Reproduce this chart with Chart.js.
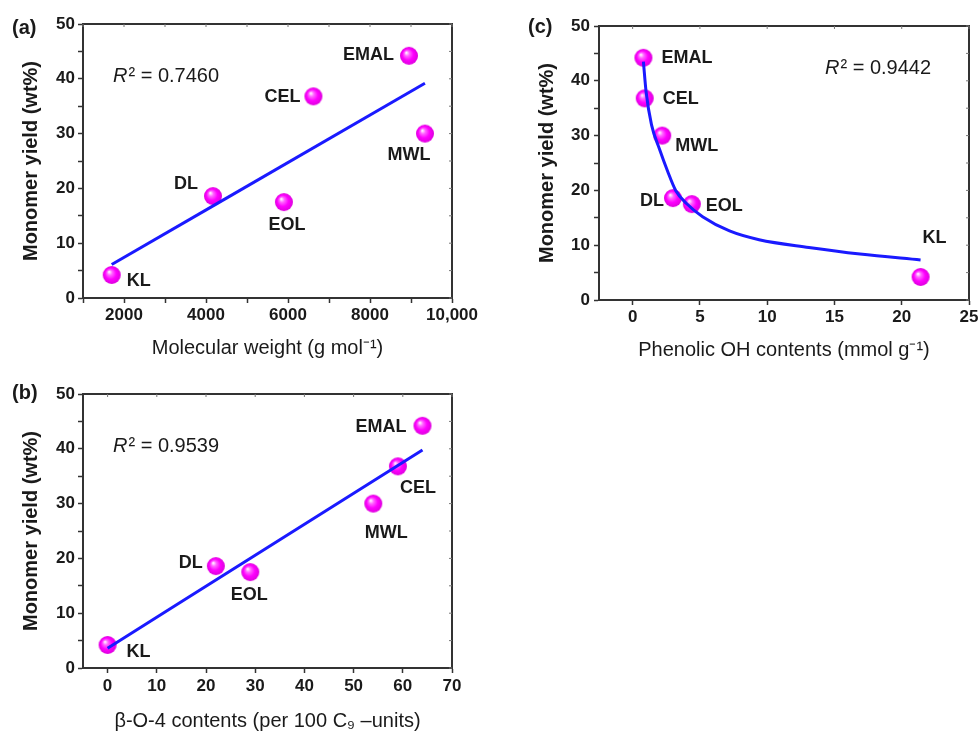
<!DOCTYPE html>
<html>
<head>
<meta charset="utf-8">
<script src="https://cdn.jsdelivr.net/npm/chart.js@4.4.1/dist/chart.umd.min.js"></script>
<style>
html, body { margin: 0; padding: 0; background: #fff; }
#page { position: relative; width: 979px; height: 731px; overflow: hidden; }
.panel { position: absolute; }
</style>
</head>
<body>
<div id="page">
  <div class="panel" style="left:0;top:0;width:490px;height:370px"><canvas id="chartA"></canvas></div>
  <div class="panel" style="left:0;top:370px;width:490px;height:361px"><canvas id="chartB"></canvas></div>
  <div class="panel" style="left:490px;top:0;width:489px;height:370px"><canvas id="chartC"></canvas></div>
</div>
<script>
// data
const names = ['KL', 'DL', 'EOL', 'CEL', 'EMAL', 'MWL'];
const monomerYield = [4.2, 18.6, 17.5, 36.8, 44.2, 30.0];
const molecularWeight = [1700, 4170, 5900, 6620, 8950, 9340];
const betaO4 = [0, 22, 29, 59, 64, 54];
const phenolicOH = [21.4, 3.0, 4.4, 0.9, 0.8, 2.2];

// fitted curves
const fitAX = [1700, 9340];
const fitAY = [6.1, 39.2];
const fitBX = [0, 64];
const fitBY = [3.6, 39.8];
const fitCX = [0.8, 1.0, 1.4, 2.0, 2.6, 3.2, 4.0, 5.2, 7.2, 9.4, 13.1, 16.9, 21.4];
const fitCY = [43.5, 38.0, 32.0, 27.5, 23.5, 20.0, 17.6, 15.2, 12.6, 11.0, 9.6, 8.4, 7.3];

const r2Values = ['0.7460', '0.9539', '0.9442'];

// ticks
const yTicks = [0, 5, 10, 15, 20, 25, 30, 35, 40, 45, 50];
const yLabels = [0, 10, 20, 30, 40, 50];
const xTicksA = [1000, 2000, 3000, 4000, 5000, 6000, 7000, 8000, 9000, 10000];
const xLabelsA = [2000, 4000, 6000, 8000, 10000];
const xTicksB = [0, 10, 20, 30, 40, 50, 60, 70];
const xTicksC = [0, 5, 10, 15, 20, 25];

const FONT = '"Liberation Sans", Arial, Helvetica, sans-serif';
const INK = '#1a1a1a';
const AXIS = '#333';

function sphere(r) {
  const c = document.createElement('canvas');
  const s = r * 2 + 2;
  c.width = s; c.height = s;
  const g = c.getContext('2d');
  const cx = s / 2, cy = s / 2;
  const grad = g.createRadialGradient(cx - r * 0.3, cy - r * 0.35, r * 0.05, cx, cy, r);
  grad.addColorStop(0, '#ffeeff');
  grad.addColorStop(0.25, '#ff66ff');
  grad.addColorStop(0.6, '#ff00ff');
  grad.addColorStop(1, '#dd00dd');
  g.fillStyle = grad;
  g.beginPath();
  g.arc(cx, cy, r, 0, Math.PI * 2);
  g.fill();
  return c;
}
const ball = sphere(9);

function fmtTick(v) {
  return v >= 10000 ? v.toLocaleString('en-US') : String(v);
}

function decor(p) {
  return {
    id: 'decor',
    afterDatasetsDraw(chart) {
      const ctx = chart.ctx;
      const xs = chart.scales.x, ys = chart.scales.y;
      ctx.save();
      ctx.fillStyle = INK;
      ctx.textBaseline = 'middle';
      ctx.font = 'bold 18px ' + FONT;
      names.forEach((n, i) => {
        const pl = p.place[n];
        ctx.textAlign = pl[2];
        ctx.fillText(n, xs.getPixelForValue(p.xv[i]) + pl[0], ys.getPixelForValue(monomerYield[i]) + pl[1]);
      });
      // R² annotation
      ctx.textAlign = 'left';
      ctx.font = 'italic 20px ' + FONT;
      ctx.fillText('R', p.r2Pos[0], p.r2Pos[1]);
      const w = ctx.measureText('R').width;
      ctx.font = '20px ' + FONT;
      ctx.fillText('\u00b2 = ' + p.r2, p.r2Pos[0] + w + 1, p.r2Pos[1]);
      // panel letter
      ctx.font = 'bold 20px ' + FONT;
      ctx.fillText(p.letter, p.letterPos[0], p.letterPos[1]);
      ctx.restore();
    },
    afterDraw(chart) {
      const ctx = chart.ctx;
      const a = chart.chartArea;
      const xs = chart.scales.x, ys = chart.scales.y;
      ctx.save();
      ctx.strokeStyle = AXIS;
      ctx.lineWidth = 2;
      ctx.beginPath();
      ctx.moveTo(a.left - 1, a.top);
      ctx.lineTo(a.right, a.top);
      ctx.lineTo(a.right, a.bottom + 1);
      ctx.stroke();
      ctx.strokeStyle = '#777';
      ctx.lineWidth = 1;
      ctx.beginPath();
      xs.ticks.forEach(t => {
        const px = xs.getPixelForValue(t.value);
        ctx.moveTo(px, a.top);
        ctx.lineTo(px, a.top + 3);
      });
      ys.ticks.forEach(t => {
        const py = ys.getPixelForValue(t.value);
        ctx.moveTo(a.right, py);
        ctx.lineTo(a.right - 3, py);
      });
      ctx.stroke();
      ctx.restore();
    }
  };
}

function makePanel(id, p) {
  const points = p.xv.map((x, i) => ({ x: x, y: monomerYield[i] }));
  const fit = p.fitX.map((x, i) => ({ x: x, y: p.fitY[i] }));
  return new Chart(document.getElementById(id), {
    type: 'scatter',
    data: {
      datasets: [
        {
          data: fit,
          showLine: true,
          borderColor: '#1a1aff',
          borderWidth: 3,
          pointRadius: 0,
          cubicInterpolationMode: 'monotone',
          order: 0
        },
        {
          data: points,
          pointStyle: ball,
          pointRadius: 9,
          order: 1
        }
      ]
    },
    options: {
      responsive: true,
      maintainAspectRatio: false,
      animation: false,
      layout: { padding: p.padding },
      plugins: { legend: { display: false }, tooltip: { enabled: false } },
      scales: {
        x: {
          type: 'linear',
          min: p.xMin,
          max: p.xMax,
          afterBuildTicks: s => { s.ticks = p.xTicks.map(v => ({ value: v })); },
          afterFit: s => { s.height = p.xHeight; s.paddingLeft = 0; s.paddingRight = 0; },
          grid: { drawOnChartArea: false, drawTicks: true, tickLength: 5, tickColor: AXIS, tickWidth: 1.5 },
          border: { display: true, color: AXIS, width: 2 },
          ticks: {
            autoSkip: false,
            maxRotation: 0,
            padding: p.xTickPad,
            color: INK,
            font: { family: FONT, size: 17, weight: 'bold' },
            callback: v => (p.xLabels.includes(v) ? fmtTick(v) : '')
          },
          title: {
            display: true,
            text: p.xTitle,
            color: INK,
            padding: { top: 0, bottom: p.xTitlePad },
            font: { family: FONT, size: 20, lineHeight: 1 }
          }
        },
        y: {
          type: 'linear',
          min: 0,
          max: 50,
          afterBuildTicks: s => { s.ticks = yTicks.map(v => ({ value: v })); },
          afterFit: s => { s.width = p.yWidth; s.paddingTop = 0; s.paddingBottom = 0; },
          grid: { drawOnChartArea: false, drawTicks: true, tickLength: 5, tickColor: AXIS, tickWidth: 1.5 },
          border: { display: true, color: AXIS, width: 2 },
          ticks: {
            autoSkip: false,
            padding: p.yTickPad,
            color: INK,
            font: { family: FONT, size: 17, weight: 'bold' },
            callback: v => (yLabels.includes(v) ? String(v) : '')
          },
          title: {
            display: true,
            text: 'Monomer yield (wt%)',
            color: INK,
            padding: { top: p.yTitlePad, bottom: 0 },
            font: { family: FONT, size: 20, weight: 'bold', lineHeight: 1 }
          }
        }
      }
    },
    plugins: [decor(p)]
  });
}

makePanel('chartA', {
  xv: molecularWeight, fitX: fitAX, fitY: fitAY,
  xMin: 1000, xMax: 10000, xTicks: xTicksA, xLabels: xLabelsA,
  xTitle: 'Molecular weight (g mol\u207b\u00b9)',
  padding: { left: 0, top: 24, right: 38, bottom: 0 },
  yWidth: 83, xHeight: 72, xTickPad: 2, yTickPad: 3, xTitlePad: 12, yTitlePad: 21,
  r2: r2Values[0], r2Pos: [113, 76], letter: '(a)', letterPos: [12, 28],
  place: {
    KL: [15, 6, 'left'], DL: [-15, -12, 'right'], EOL: [3, 23, 'center'],
    CEL: [-13, 1, 'right'], EMAL: [-15, -1, 'right'], MWL: [-16, 21, 'center']
  }
});

makePanel('chartB', {
  xv: betaO4, fitX: fitBX, fitY: fitBY,
  xMin: -5, xMax: 70, xTicks: xTicksB, xLabels: xTicksB,
  xTitle: '\u03b2-O-4 contents (per 100 C\u2089 \u2013units)',
  padding: { left: 0, top: 24, right: 38, bottom: 0 },
  yWidth: 83, xHeight: 63, xTickPad: 3, yTickPad: 3, xTitlePad: 0, yTitlePad: 21,
  r2: r2Values[1], r2Pos: [113, 76], letter: '(b)', letterPos: [12, 23],
  place: {
    KL: [19, 7, 'left'], DL: [-13, -3, 'right'], EOL: [-1, 23, 'center'],
    CEL: [2, 22, 'left'], EMAL: [-16, 1, 'right'], MWL: [13, 29, 'center']
  }
});

makePanel('chartC', {
  xv: phenolicOH, fitX: fitCX, fitY: fitCY,
  xMin: -2.5, xMax: 25, xTicks: xTicksC, xLabels: xTicksC,
  xTitle: 'Phenolic OH contents (mmol g\u207b\u00b9)',
  padding: { left: 0, top: 26, right: 8, bottom: 0 },
  yWidth: 109, xHeight: 70, xTickPad: 2, yTickPad: 4, xTitlePad: 10, yTitlePad: 47,
  r2: r2Values[2], r2Pos: [335, 68], letter: '(c)', letterPos: [38, 27],
  place: {
    KL: [2, -39, 'left'], DL: [-9, 3, 'right'], EOL: [14, 2, 'left'],
    CEL: [18, 1, 'left'], EMAL: [18, 0, 'left'], MWL: [13, 10, 'left']
  }
});
</script>
</body>
</html>
